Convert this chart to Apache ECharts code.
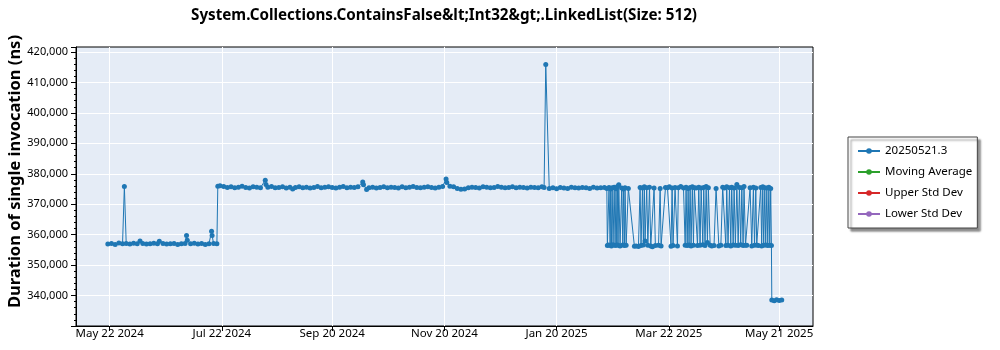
<!DOCTYPE html>
<html><head><meta charset="utf-8">
<script src="https://cdn.jsdelivr.net/npm/echarts@6/dist/echarts.min.js"></script>
<style>html,body{margin:0;padding:0;background:#fff}#c{width:1000px;height:350px}</style>
</head><body><div id="c"></div>
<script>
const chartTitle = 'System.Collections.ContainsFalse&lt;Int32&gt;.LinkedList(Size: 512)';
const yAxisTitle = 'Duration of single invocation (ns)';
const seriesNames = ['20250521.3', 'Moving Average', 'Upper Std Dev', 'Lower Std Dev'];
const seriesColors = ['#1f77b4', '#2ca02c', '#d62728', '#9467bd'];
// x positions: days since May 22 2024
const xTickDays = [0, 61, 121, 182, 243, 304, 364];
const xTickLabels = ['May 22 2024', 'Jul 22 2024', 'Sep 20 2024', 'Nov 20 2024', 'Jan 20 2025', 'Mar 22 2025', 'May 21 2025'];
const yTickValues = [340000, 350000, 360000, 370000, 380000, 390000, 400000, 410000, 420000];

const daysA = [-1, 1, 3, 5, 7, 8, 9, 11, 13, 15, 16.5, 18, 20, 22, 24, 26, 27, 29, 31, 33, 35, 37, 39, 41, 41.8, 42.2, 44, 46, 48, 50, 52, 54, 55.4, 55.7, 56.5, 58.3];
const valuesA = [356900, 357100, 356800, 357300, 357000, 375800, 357100, 356900, 357200, 357000, 357900, 357100, 356900, 357000, 357200, 357000, 357800, 357100, 356900, 357000, 357100, 356800, 357000, 357100, 359700, 358200, 357000, 357200, 356900, 357100, 356800, 357000, 361100, 359700, 357100, 357000];

const daysB = [58.8, 60, 62, 64, 66, 68, 70, 72, 74, 76, 78, 80, 82, 84.6, 85, 86, 88, 90, 92, 94, 96, 98, 99.5, 101, 103, 105, 107, 109, 111, 113, 115, 117, 119, 121, 123, 125, 127, 129, 131, 133, 135, 137.6, 138, 139.7, 141, 143, 145, 147, 149, 151, 153, 155, 157, 159, 161, 163, 165, 167, 169, 171, 173, 175, 177, 179, 181, 182.9, 183.3, 185, 187, 189, 191, 193, 195, 197, 199, 201, 203, 205, 207, 209, 211, 213, 215, 217, 219, 221, 223, 225, 227, 229, 231, 233, 235, 236.2, 237.1, 239, 241, 243, 245, 247, 249, 251, 253, 255, 257, 259, 261, 263, 265, 267, 269];
const valuesB = [375900, 376100, 375800, 375500, 375700, 375400, 375600, 375900, 375500, 375300, 375700, 375600, 375400, 377900, 376500, 375600, 375800, 375400, 375500, 375700, 375300, 375600, 375000, 375500, 375700, 375400, 375600, 375300, 375500, 375800, 375400, 375600, 375700, 375500, 375300, 375600, 375800, 375400, 375600, 375500, 375700, 377300, 376400, 374800, 375400, 375600, 375300, 375500, 375700, 375400, 375600, 375500, 375300, 375700, 375400, 375600, 375800, 375500, 375400, 375600, 375700, 375500, 375300, 375600, 375800, 378300, 377100, 375900, 375700, 375200, 374900, 375000, 375400, 375600, 375500, 375300, 375700, 375600, 375400, 375500, 375800, 375600, 375400, 375500, 375700, 375400, 375600, 375500, 375300, 375600, 375500, 375400, 375700, 375500, 415900, 375200, 375400, 375100, 375500, 375300, 375200, 375600, 375400, 375300, 375500, 375400, 375200, 375600, 375300, 375400, 375500];

const daysC = [270.3, 270.6, 271.2, 271.5, 272.1, 272.4, 272.8, 273.2, 273.7, 274.3, 274.8, 275.3, 275.7, 276.1, 276.4, 276.8, 277.5, 278.4, 279.0, 279.3, 279.9, 280.2, 280.8, 282.0, 285.3, 286.2, 287.5, 288.4, 288.9, 289.7, 290.2, 290.7, 291.1, 292.0, 292.6, 293.5, 294.2, 295.1, 296.0, 296.7, 298.4, 299.3, 299.8, 302.2, 303.3, 304.3, 305.2, 305.8, 306.3, 307.4, 308.7, 309.2, 310.5, 312.0, 312.9, 313.4, 314.0, 314.5, 315.0, 315.6, 316.1, 316.8, 317.4, 317.9, 318.8, 319.6, 320.3, 321.0, 321.6, 322.5, 323.0, 323.7, 324.3, 325.0, 325.5, 326.5, 327.4, 328.6, 329.7, 331.2, 332.3, 333.3, 334.2, 335.0, 335.5, 336.2, 337.0, 337.7, 338.2, 339.0, 339.5, 340.2, 341.0, 341.7, 342.4, 343.1, 343.7, 344.4, 344.9, 345.7, 346.4, 348.2, 349.1, 350.0, 350.6, 351.3, 351.8, 352.7, 354.0, 354.5, 355.1, 355.6, 356.2, 356.7, 357.3, 357.8, 358.4, 358.9, 359.4, 359.8];
const valuesC = [375200, 356400, 356600, 375500, 356500, 375000, 356300, 375400, 356700, 375600, 356400, 375100, 356600, 375800, 356500, 376400, 356300, 375300, 356600, 375000, 356400, 375400, 356500, 375200, 356200, 356300, 356100, 375500, 356400, 375300, 356600, 375700, 357900, 375400, 356500, 375600, 356300, 356000, 375300, 356400, 356500, 375200, 356300, 375500, 375400, 375700, 356200, 375300, 356400, 375500, 356300, 375400, 375800, 375300, 356500, 375600, 356400, 375200, 356600, 375500, 356300, 375700, 356500, 375400, 375300, 356400, 375600, 356500, 375300, 356700, 375500, 356400, 375800, 357400, 375400, 356500, 356300, 356400, 375200, 356300, 356500, 375600, 375300, 356400, 375700, 356500, 375400, 356300, 375600, 356600, 375300, 356500, 376500, 356400, 375500, 356700, 375400, 356400, 375800, 356500, 356500, 375400, 356300, 375600, 356500, 375300, 356600, 356400, 375500, 356300, 375700, 356500, 375400, 356600, 375300, 356400, 375600, 356500, 375200, 356400];

const daysD = [360.0, 361.3, 362.6, 364.0, 365.4];
const valuesD = [338500, 338300, 338600, 338400, 338500];

const allDays = daysA.concat(daysB, daysC, daysD);
const allValues = valuesA.concat(valuesB, valuesC, valuesD);
const mainData = allDays.map((d, i) => [d, allValues[i]]);

const FONT = 'Noto Sans';
const chart = echarts.init(document.getElementById('c'), null, {renderer: 'canvas'});
chart.setOption({
  animation: false,
  textStyle: {fontFamily: FONT},
  title: {
    text: chartTitle, left: 439, top: 3, textAlign: 'center',
    textStyle: {fontFamily: FONT, fontSize: 15.2, fontWeight: 'bold', color: '#000'}
  },
  legend: {
    orient: 'vertical', left: 848, top: 137,
    data: seriesNames,
    itemWidth: 22, itemHeight: 7, itemGap: 9,
    padding: [8, 5, 8, 9],
    backgroundColor: '#fff', borderColor: '#444', borderWidth: 1,
    shadowColor: 'rgba(0,0,0,0.45)', shadowBlur: 2, shadowOffsetX: 3, shadowOffsetY: 3,
    textStyle: {fontFamily: FONT, fontSize: 11.5, color: '#000'}
  },
  grid: {left: 76, right: 187, top: 47, bottom: 24, outerBoundsMode: 'none', containLabel: false,
    show: true, backgroundColor: '#e5ecf6', borderColor: '#000', borderWidth: 1},
  xAxis: {
    type: 'value', min: -18.3, max: 382.4,
    axisLine: {show: true, onZero: false, lineStyle: {color: '#000'}},
    axisTick: {show: true, customValues: xTickDays, length: 5, lineStyle: {color: '#000'}},
    axisLabel: {customValues: xTickDays, formatter: v => xTickLabels[xTickDays.indexOf(v)] || '', fontSize: 11.5, color: '#000', margin: 2, fontFamily: FONT},
    splitLine: {show: true, customValues: xTickDays, lineStyle: {color: '#fff', width: 1}}
  },
  yAxis: {
    type: 'value', min: 330000, max: 421640, interval: 10000,
    name: yAxisTitle, nameLocation: 'middle', nameGap: 52, nameMoveOverlap: false,
    nameTextStyle: {fontFamily: FONT, fontSize: 16.5, fontWeight: 'bold', color: '#000', padding: [0, 0, 0, 30]},
    axisLine: {show: true, onZero: false, lineStyle: {color: '#000'}},
    axisTick: {show: true, length: 5, lineStyle: {color: '#000'}},
    minorTick: {show: true, splitNumber: 5, length: 2, lineStyle: {color: '#000'}},
    axisLabel: {showMinLabel: false, showMaxLabel: false, fontSize: 11, color: '#000', margin: 8, fontFamily: FONT,
      formatter: v => yTickValues.indexOf(v) >= 0 ? v.toLocaleString('en-US') : ''},
    splitLine: {show: true, showMinLine: false, showMaxLine: false, lineStyle: {color: '#fff', width: 1}}
  },
  series: [
    {name: seriesNames[0], type: 'line', data: mainData, color: seriesColors[0],
     symbol: 'circle', symbolSize: 5, showSymbol: true, showAllSymbol: true,
     lineStyle: {width: 1, color: seriesColors[0]}, itemStyle: {color: seriesColors[0]}},
    {name: seriesNames[1], type: 'line', data: [], color: seriesColors[1], symbol: 'circle', itemStyle: {color: seriesColors[1]}},
    {name: seriesNames[2], type: 'line', data: [], color: seriesColors[2], symbol: 'circle', itemStyle: {color: seriesColors[2]}},
    {name: seriesNames[3], type: 'line', data: [], color: seriesColors[3], symbol: 'circle', itemStyle: {color: seriesColors[3]}}
  ]
});
</script></body></html>
